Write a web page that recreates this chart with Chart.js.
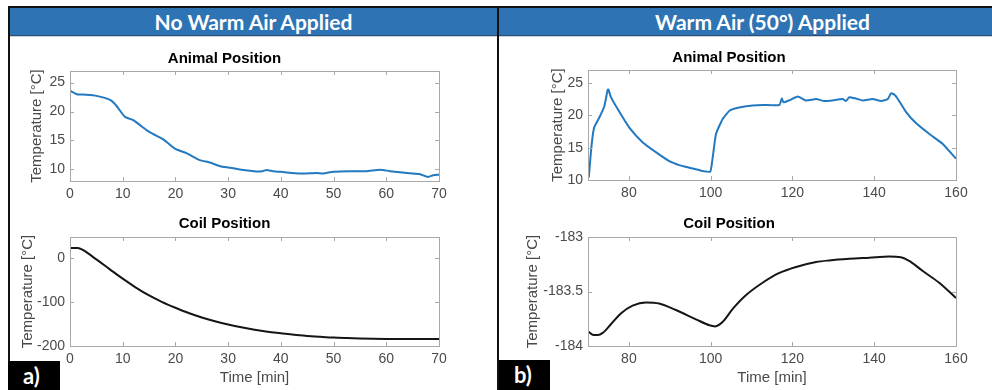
<!DOCTYPE html>
<html>
<head>
<meta charset="utf-8">
<script src="https://cdn.jsdelivr.net/npm/chart.js@4.4.1/dist/chart.umd.min.js"></script>
<style>
  html, body { margin: 0; padding: 0; background: #ffffff; }
  #root { position: relative; width: 992px; height: 390px; overflow: hidden; background: #fff; }
  .abs { position: absolute; }
  .frame { background: #111; }
  .hdr { position: absolute; top: 8px; height: 27px; background: #2e74b5; border-bottom: 1px solid #274f7a;
         color: #fff; font-family: Lato, 'Open Sans', sans-serif; font-weight: bold; font-size: 21px;
         line-height: 27px; text-align: center; box-shadow: 0 1px 0 #d0d0d0; }
  .tag { position: absolute; background: #000; color: #fff; font-family: Lato, 'Open Sans', sans-serif;
         font-weight: bold; font-size: 22px; line-height: 30px; padding-left: 15px; box-sizing: border-box; }
  canvas { position: absolute; }
</style>
</head>
<body>
<div id="root">
  <div class="abs frame" style="left:8px; top:6px; width:984px; height:2px;"></div>
  <div class="abs frame" style="left:8px; top:6px; width:2px; height:384px;"></div>
  <div class="abs frame" style="left:497px; top:6px; width:2px; height:384px;"></div>
  <div class="hdr" style="left:10px; width:487px;">No Warm Air Applied</div>
  <div class="hdr" style="left:499px; width:527px;">Warm Air (50°) Applied</div>
  <canvas id="cLA" width="449" height="172" style="left:10px; top:38px;"></canvas>
  <canvas id="cLC" width="449" height="185" style="left:10px; top:205px;"></canvas>
  <canvas id="cRA" width="474" height="172" style="left:502px; top:38px;"></canvas>
  <canvas id="cRC" width="474" height="185" style="left:502px; top:205px;"></canvas>
  <div class="tag" style="left:8px; top:361px; width:52px; height:29px;">a)</div>
  <div class="tag" style="left:499px; top:360px; width:51px; height:30px;">b)</div>
</div>
<script>
// ---------------- DATA ----------------
// Panel a) No warm air, animal position (time [min], temperature [°C])
const timeAnimalA = [0, 1.3, 3, 5, 7.6, 8.8, 10.4, 12, 13.2, 14.5, 15.8, 17.7, 19.9, 22.1, 24.6, 26.5, 28.7, 31, 32.2, 35.4, 36.5, 37.3, 38.5, 40.4, 43.6, 46.8, 48, 50, 53, 56.2, 58.8, 60.7, 64.4, 66.3, 67.9, 68.9, 70];
const tempAnimalA = [23.6, 23.0, 22.9, 22.7, 22.0, 21.0, 19.1, 18.5, 17.7, 16.8, 16.1, 15.2, 13.6, 12.8, 11.6, 11.2, 10.5, 10.2, 10.0, 9.65, 9.7, 9.9, 9.7, 9.55, 9.3, 9.4, 9.3, 9.6, 9.7, 9.7, 9.95, 9.7, 9.35, 9.2, 8.7, 9.0, 9.1];
// Panel a) coil position
const timeCoilA = [0, 1.5, 2.5, 5, 7.5, 10, 12.5, 15, 17.5, 20, 22.5, 25, 27.5, 30, 32.5, 35, 37.5, 40, 42.5, 45, 47.5, 50, 52.5, 55, 57.5, 60, 65, 70];
const tempCoilA = [23, 23, 18, -3, -25, -46.8, -67, -85, -100, -113, -125, -135, -143.5, -151, -157.5, -163, -167.5, -171, -174.5, -177, -179, -180.8, -182, -183, -183.6, -184, -184.2, -184.2];
// Panel b) warm air (50°), animal position
const timeAnimalB = [70.2, 70.6, 71, 71.5, 72.8, 74, 74.8, 75, 75.6, 77.7, 80.1, 83.4, 86.6, 89.9, 92.3, 94.8, 98, 99.9, 100.5, 101.3, 102.9, 104.6, 107, 110.3, 112.7, 116.8, 117.4, 117.8, 119.2, 121.3, 123.3, 125.8, 127.8, 129.8, 132.3, 133.1, 133.9, 135.5, 137.2, 139.6, 141.7, 143.3, 144.1, 144.9, 145.7, 147.8, 150.2, 153.5, 156.7, 160];
const tempAnimalB = [10.4, 13.5, 16.1, 18.1, 19.7, 21.4, 23.9, 24.0, 22.8, 20.5, 18.1, 15.8, 14.3, 12.9, 12.3, 11.9, 11.4, 11.3, 13.5, 17.1, 19.4, 20.7, 21.2, 21.5, 21.6, 21.6, 22.6, 22.0, 22.3, 22.9, 22.3, 22.5, 22.2, 22.3, 22.5, 22.2, 22.8, 22.6, 22.3, 22.5, 22.2, 22.5, 23.4, 23.2, 22.6, 20.5, 18.8, 17.1, 15.6, 13.3];
// Panel b) coil position
const timeCoilB = [70, 71.1, 72.4, 73.6, 75.6, 78.1, 80.9, 84.2, 87.4, 91.5, 96.4, 99.7, 101.1, 102.9, 105.4, 108.6, 112.7, 116.8, 120.9, 125.8, 129, 133.9, 138.8, 143.7, 146.5, 149, 151.8, 155.9, 160];
const tempCoilB = [-183.865, -183.896, -183.90, -183.88, -183.80, -183.70, -183.63, -183.60, -183.61, -183.67, -183.755, -183.81, -183.82, -183.78, -183.66, -183.535, -183.42, -183.33, -183.275, -183.23, -183.215, -183.20, -183.19, -183.18, -183.185, -183.23, -183.31, -183.42, -183.56];

// Tick labels
const xTicksA = [0, 10, 20, 30, 40, 50, 60, 70];
const xTicksB = [80, 100, 120, 140, 160];
const yTicksAnimalA = [10, 15, 20, 25];
const yTicksCoilA = [-200, -100, 0];
const yTicksAnimalB = [10, 15, 20, 25];
const yTicksCoilB = [-184, -183.5, -183];

// Text
const titleAnimal = 'Animal Position';
const titleCoil = 'Coil Position';
const yLabel = 'Temperature [°C]';
const xLabel = 'Time [min]';

// ---------------- DRAWING ----------------
Chart.defaults.font.family = "'Liberation Sans', Arial, Helvetica, sans-serif";
Chart.defaults.devicePixelRatio = 1;

const boxPlugin = {
  id: 'matlabBox',
  afterDatasetsDraw(chart) {
    const {ctx, chartArea: a, scales} = chart;
    ctx.save();
    ctx.strokeStyle = '#a8a8a8';
    ctx.lineWidth = 1;
    ctx.beginPath();
    const tl = 4;
    scales.x.ticks.forEach(t => {
      const px = Math.round(scales.x.getPixelForValue(t.value)) + 0.5;
      ctx.moveTo(px, a.bottom); ctx.lineTo(px, a.bottom - tl);
      ctx.moveTo(px, a.top); ctx.lineTo(px, a.top + tl);
    });
    scales.y.ticks.forEach(t => {
      const py = Math.round(scales.y.getPixelForValue(t.value)) + 0.5;
      ctx.moveTo(a.left, py); ctx.lineTo(a.left + tl, py);
      ctx.moveTo(a.right, py); ctx.lineTo(a.right - tl, py);
    });
    ctx.stroke();
    ctx.strokeRect(Math.round(a.left) + 0.5, Math.round(a.top) + 0.5,
                   Math.round(a.right - a.left), Math.round(a.bottom - a.top));
    ctx.restore();
  }
};

function makeChart(id, xs, ys, opt) {
  const pts = xs.map((x, i) => ({x: x, y: ys[i]}));
  return new Chart(document.getElementById(id), {
    type: 'line',
    data: { datasets: [{
      data: pts,
      borderColor: opt.color,
      borderWidth: 2,
      pointRadius: 0,
      fill: false,
      tension: opt.tension,
      cubicInterpolationMode: opt.mono ? 'monotone' : 'default'
    }]},
    options: {
      responsive: false,
      animation: false,
      events: [],
      layout: { padding: { left: 0, right: opt.padRight, top: 0, bottom: 0 } },
      plugins: {
        legend: { display: false },
        tooltip: { enabled: false },
        title: {
          display: true, text: opt.title, color: '#000',
          font: { size: 15, weight: 'bold', lineHeight: 1.2 },
          padding: { top: opt.titlePadTop, bottom: opt.titlePadBottom }
        }
      },
      scales: {
        x: {
          type: 'linear', min: opt.xMin, max: opt.xMax,
          grid: { display: false, drawTicks: false },
          border: { display: false },
          afterBuildTicks: s => { s.ticks = opt.xTicks.map(v => ({value: v})); },
          afterFit: s => { s.height = opt.xAxisH; },
          ticks: { color: '#4a4a4a', font: { size: 14 }, padding: 5, maxRotation: 0, autoSkip: false,
                   callback: v => String(v) },
          title: { display: opt.showXTitle, text: xLabel, color: '#4a4a4a',
                   font: { size: 15, lineHeight: 1.2 }, padding: { top: 0, bottom: 3 } }
        },
        y: {
          type: 'linear', min: opt.yMin, max: opt.yMax,
          grid: { display: false, drawTicks: false },
          border: { display: false },
          afterBuildTicks: s => { s.ticks = opt.yTicks.map(v => ({value: v})); },
          afterFit: s => { s.width = opt.yAxisW; },
          ticks: { color: '#4a4a4a', font: { size: 14 }, padding: 5, autoSkip: false,
                   callback: v => String(v) },
          title: { display: true, text: yLabel, color: '#4a4a4a',
                   font: { size: 15, lineHeight: 1.2 }, padding: { top: opt.yTitlePad, bottom: 0 } }
        }
      }
    },
    plugins: [boxPlugin]
  });
}

const blue = '#2279c0';
const black = '#151515';

makeChart('cLA', timeAnimalA, tempAnimalA, {
  color: blue, tension: 0.2, mono: false, title: titleAnimal, titlePadTop: 12, titlePadBottom: 3,
  xMin: 0, xMax: 70, xTicks: xTicksA, yMin: 8, yMax: 27, yTicks: yTicksAnimalA,
  xAxisH: 29, yAxisW: 60, yTitlePad: 18, showXTitle: false, padRight: 20
});
makeChart('cLC', timeCoilA, tempCoilA, {
  color: black, tension: 0.4, mono: true, title: titleCoil, titlePadTop: 10, titlePadBottom: 4,
  xMin: 0, xMax: 70, xTicks: xTicksA, yMin: -200, yMax: 48, yTicks: yTicksCoilA,
  xAxisH: 44, yAxisW: 60, yTitlePad: 9, showXTitle: true, padRight: 20
});
makeChart('cRA', timeAnimalB, tempAnimalB, {
  color: blue, tension: 0.15, mono: false, title: titleAnimal, titlePadTop: 11, titlePadBottom: 3,
  xMin: 70, xMax: 160, xTicks: xTicksB, yMin: 10, yMax: 27, yTicks: yTicksAnimalB,
  xAxisH: 30, yAxisW: 86, yTitlePad: 47, showXTitle: false, padRight: 20
});
makeChart('cRC', timeCoilB, tempCoilB, {
  color: black, tension: 0.4, mono: true, title: titleCoil, titlePadTop: 10, titlePadBottom: 4,
  xMin: 70, xMax: 160, xTicks: xTicksB, yMin: -184, yMax: -183, yTicks: yTicksCoilB,
  xAxisH: 44, yAxisW: 86, yTitlePad: 22, showXTitle: true, padRight: 20
});
</script>
</body>
</html>
